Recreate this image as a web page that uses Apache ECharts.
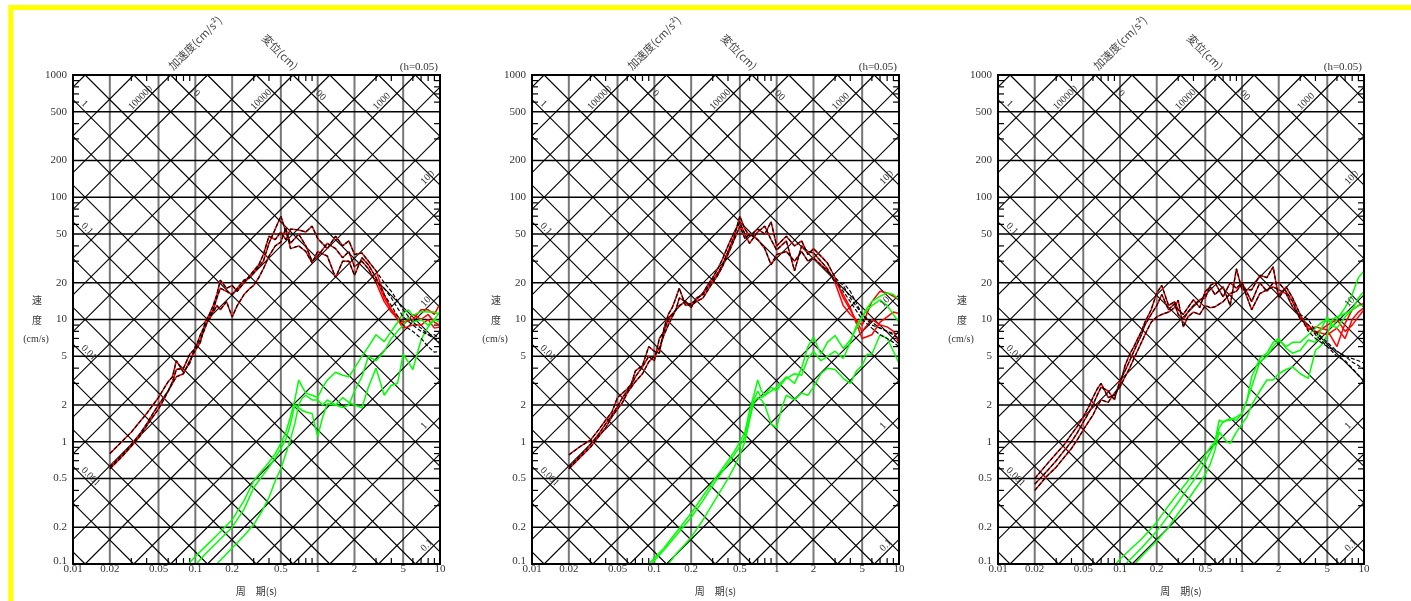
<!DOCTYPE html>
<html><head><meta charset="utf-8">
<script src="https://cdn.jsdelivr.net/npm/echarts@6/dist/echarts.min.js"></script>
<style>html,body{margin:0;padding:0;background:#fff}#c{width:1411px;height:601px}</style>
</head><body><div id="c"></div>
<script>
// ---------- data ----------
const periods = [0.02,0.025,0.03,0.035,0.04,0.045,0.05,0.055,0.06,0.065,0.07,0.08,0.09,0.1,0.11,0.12,0.13,0.14,0.15,0.16,0.18,0.2,0.22,0.25,0.28,0.3,0.33,0.36,0.4,0.45,0.5,0.55,0.6,0.7,0.8,0.9,1.0,1.2,1.4,1.6,1.8,2.0,2.3,2.6,3.0,3.5,4.0,5.0,6.0,7.0,8.0,9.0,10];
const tailPeriods = [3.5,4.0,5.0,6.0,7.0,8.0,9.0,10];
const greenPeriods = [0.08,0.09,0.1,0.12,0.15,0.2,0.25,0.3,0.35,0.4,0.45,0.5,0.55,0.6,0.65,0.7,0.75,0.8,0.9,1.0,1.1,1.2,1.4,1.6,1.8,2.0,2.3,2.6,3.0,3.5,4.0,4.5,5.0,5.5,6.0,7.0,8.0,9.0,10];

// plot 1
const p1RedA = [0.8,1.0,1.2,1.45,1.7,2.0,2.3,2.7,3.1,3.4,4.6,3.7,4.4,6.0,6.8,8.5,10.5,12,15,18,17,16,18,21,22,24,27,30,42,55,70,52,42,50,40,30,33,42,38,32,36,27,30,26,20,14,11.5,9,11,10,11,9.5,9];
const p1RedB = [0.6,0.75,0.92,1.1,1.35,1.6,1.85,2.2,2.6,3.0,3.4,3.6,4.6,5.6,6.5,9.5,11,13,16,21,18,19,17,20,23,25,28,34,48,45,52,45,55,54,52,58,46,38,48,40,44,34,35,30,25,16,12,9.5,10,12,12,11,13.5];
const p1RedC = [0.62,0.78,0.95,1.15,1.4,1.7,2.0,2.3,2.6,3.1,3.9,4.0,5.2,5.8,7.5,9,10,11.5,13,12,14,10.5,13,16,18,19,22,26,33,40,43,56,38,40,36,29,36,33,22,30,30,23,32,28,22,15,12,8.5,9,9,10,8.5,8.7];
const p1BlackTailA = [18,15,10.5,9,8,7.5,7,6.5];
const p1BlackTailB = [20,17,12,9.5,8.5,7.5,7.5,7];
const p1BlackTailC = [16,13,9,8,7,6,5.4,5.5];
const p1GreenA = [0.09,0.103,0.115,0.138,0.172,0.23,0.33,0.48,0.58,0.68,0.8,0.97,1.2,1.6,2.2,3.2,2.8,2.5,2.4,2.3,2.8,3.2,3.7,3.5,3.4,4.0,5.0,6.0,7.5,6.6,8.0,9.5,11.3,12,10.8,11.6,11.5,11.5,11];
const p1GreenB = [0.075,0.085,0.098,0.12,0.15,0.2,0.28,0.42,0.52,0.62,0.74,0.88,1.05,1.4,2.0,1.9,1.8,1.75,1.7,1.1,1.6,2.05,2.0,1.9,2.0,2.6,3.4,5.0,4.6,5.5,7.0,8.0,9.0,10.5,9.5,10,9,10,9.5];
const p1GreenC = [0.05,0.057,0.065,0.078,0.1,0.135,0.17,0.21,0.27,0.35,0.48,0.6,0.8,1.05,1.4,2.0,2.3,2.4,2.2,2.2,2.0,2.2,2.0,2.3,2.1,2.0,1.9,2.8,4.0,2.4,2.9,3.0,5.2,4.5,3.9,6.8,8.7,10,11.6];

// plot 2
const p2RedA = [0.78,0.92,1.03,1.25,1.5,1.75,2.3,2.5,2.7,3.0,3.8,4.2,6.0,5.5,5.3,8.5,11,12.5,15,18,13,13.5,14.5,16.5,20,22,26,31,40,52,62,50,42,52,58,45,37,44,25,40,36,35,30,26,20,13,11,9,14,17,16.5,15.5,14.4];
const p2RedB = [0.62,0.78,0.95,1.15,1.4,1.65,1.95,2.3,2.6,2.9,3.4,4.1,5.0,4.6,7.0,8.0,10,11,12,15,14,12.5,15,16,19,21,24,28,36,48,70,55,48,55,50,63,40,48,40,44,34,38,33,29,22,15,12,8,10,9,8.7,8,6.4];
const p2RedC = [0.6,0.75,0.9,1.1,1.3,1.6,1.85,2.1,2.5,2.8,3.1,3.6,4.5,5.0,5.8,7.5,9,10.5,12,13,14,13,14,15,18,20,23,27,34,45,58,46,50,45,38,28,34,36,30,36,30,32,28,25,21,16,12.5,7,7.5,9.5,10.5,11.5,11.2];
const p2BlackTailA = [20,17,11,9.5,8.5,8,7.5,7];
const p2BlackTailB = [19,15,11,9,8.5,8,7.7,7.7];
const p2BlackTailC = [17,14,10,8.5,7.5,7,6.5,6];
const p2GreenA = [0.09,0.1,0.112,0.135,0.18,0.26,0.36,0.47,0.58,0.7,0.83,1.0,1.2,1.8,2.4,3.2,2.6,2.4,2.6,2.8,3.1,3.4,3.0,4.0,6.0,7.2,5.2,6.5,7.4,5.8,6.8,8.5,10.5,12.5,14,15.5,16.5,16,14.5];
const p2GreenB = [0.085,0.096,0.107,0.13,0.17,0.24,0.33,0.44,0.55,0.66,0.78,0.92,1.1,1.6,2.2,2.6,2.3,2.4,2.8,2.6,3.0,3.3,3.6,3.5,4.8,5.5,4.6,5.0,5.5,4.8,6.5,9.0,10.5,12,13,14.5,13,11,9.5];
const p2GreenC = [0.06,0.067,0.075,0.09,0.12,0.165,0.23,0.31,0.4,0.5,0.62,0.78,1.0,1.5,2.1,2.3,2.2,2.0,1.4,1.3,1.9,2.4,2.2,2.5,2.4,2.8,3.6,4.0,3.9,3.3,3.0,3.8,4.2,5.2,5.2,7.5,7.0,5.5,4.4];

// plot 3
const p3RedA = [0.5,0.65,0.8,0.95,1.15,1.35,1.6,1.9,2.3,2.7,3.0,2.3,2.4,2.9,4.2,5.2,6.0,7.0,8.0,9.5,12,16.5,19,13,14,12,11,12.5,14.5,12.5,17,18.5,16,18.5,13,26,17.5,17.5,23,22,27,15,18.5,15,11,8.2,8.7,8.2,6,9.3,12,13,13.5];
const p3RedB = [0.45,0.57,0.7,0.85,1.0,1.2,1.45,1.7,2.0,2.4,2.8,2.6,2.2,3.2,3.8,4.6,5.5,6.5,7.5,9.0,11,13,16,12,13.5,11,10,11.5,13,14.5,15,19,20,15.3,20,18,20,14,20,17,20,20,17,14,10,9,7.7,9,10,8,9,10.5,12];
const p3RedC = [0.4,0.52,0.62,0.75,0.88,1.05,1.25,1.45,1.65,1.95,2.2,2.1,2.5,2.8,3.4,4.0,4.8,5.6,6.5,7.5,9.5,10.5,11,11.5,12.5,14.4,8.7,10.5,11.5,11,13,12.5,12.7,14,16.3,17,19.7,12,16.3,17.5,18.5,17.5,16.3,12.7,10.5,8.5,8,7.5,8.5,7,10,11.5,12.5];
const p3BlackTailA = [10,8,6.5,5.5,5,4.5,4.2,3.9];
const p3BlackTailB = [9,7.5,6,5,4.6,4.0,3.5,3.1];
const p3BlackTailC = [8,7,6,5.5,5.0,4.8,4.6,4.4];
const p3GreenA = [0.085,0.097,0.11,0.13,0.16,0.22,0.3,0.38,0.46,0.55,0.65,0.78,0.9,1.0,1.5,1.45,1.5,1.55,1.5,1.7,2.2,3.4,4.8,5.3,6.5,7.0,5.8,5.3,5.6,6.8,6.5,8.5,10.5,8.7,10,12.5,16,22,25];
const p3GreenB = [0.07,0.08,0.09,0.108,0.135,0.185,0.25,0.32,0.4,0.48,0.57,0.68,0.82,0.98,1.3,1.45,1.5,1.5,1.6,1.7,2.2,2.8,4.5,5.0,6.0,6.8,6.0,6.5,6.5,7.5,8.5,9.5,10,9,8.5,10.5,12,15,17];
const p3GreenC = [0.055,0.063,0.07,0.09,0.115,0.155,0.2,0.26,0.32,0.39,0.46,0.54,0.66,0.85,1.2,1.1,1.0,0.97,1.2,1.4,1.6,2.0,2.6,3.2,3.2,3.6,3.9,4.1,3.6,3.3,5.6,6.2,7.5,10,10.5,11.2,12,13,13];

// axes / ticks / tripartite lines
const xTickValues = [0.01,0.02,0.05,0.1,0.2,0.5,1,2,5,10];
const xTickLabels = ['0.01','0.02','0.05','0.1','0.2','0.5','1','2','5','10'];
const yTickValues = [0.1,0.2,0.5,1,2,5,10,20,50,100,200,500,1000];
const yTickLabels = ['0.1','0.2','0.5','1','2','5','10','20','50','100','200','500','1000'];
const xMinorTicks = [0.03,0.04,0.06,0.07,0.08,0.09,0.3,0.4,0.6,0.7,0.8,0.9,3,4,6,7,8,9];
const yMinorTicks = [0.3,0.4,0.6,0.7,0.8,0.9,3,4,6,7,8,9,30,40,60,70,80,90,300,400,600,700,800,900];
const dispLines = [0.0001,0.0002,0.0005,0.001,0.002,0.005,0.01,0.02,0.05,0.1,0.2,0.5,1,2,5,10,20,50,100,200,500,1000,2000];
const accLines = [0.01,0.02,0.05,0.1,0.2,0.5,1,2,5,10,20,50,100,200,500,1000,2000,5000,10000,20000,50000,100000,200000,500000,1000000];
const dispLabelsLeft = ['0.001','0.01','0.1','1'];
const dispLabelsTop = ['10','100'];
const accLabelsTop = ['100000','10000','1000'];
const accLabelsRight = ['100','10','1','0.1'];

const plots = [
  {red:[p1RedA,p1RedB,p1RedC], tails:[p1BlackTailA,p1BlackTailB,p1BlackTailC], green:[p1GreenA,p1GreenB,p1GreenC]},
  {red:[p2RedA,p2RedB,p2RedC], tails:[p2BlackTailA,p2BlackTailB,p2BlackTailC], green:[p2GreenA,p2GreenB,p2GreenC]},
  {red:[p3RedA,p3RedB,p3RedC], tails:[p3BlackTailA,p3BlackTailB,p3BlackTailC], green:[p3GreenA,p3GreenB,p3GreenC]}
];

// ---------- layout ----------
const XMIN=0.01, XMAX=10, YMIN=0.1, YMAX=1000;
const plotLefts=[73,532,998], plotWidths=[367,367,366], plotTop=75, plotHeight=489;
const SERIF='"Liberation Serif","DejaVu Serif",serif';
const CJK='"Noto Sans CJK JP","Liberation Serif",serif';

function clipSeg(x1,y1,x2,y2,r){
  let t0=0,t1=1; const dx=x2-x1, dy=y2-y1;
  const p=[-dx,dx,-dy,dy], q=[x1-r.x, r.x+r.width-x1, y1-r.y, r.y+r.height-y1];
  for(let i=0;i<4;i++){
    if(p[i]===0){ if(q[i]<0) return null; }
    else { const t=q[i]/p[i];
      if(p[i]<0){ if(t>t1) return null; if(t>t0) t0=t; }
      else { if(t<t0) return null; if(t<t1) t1=t; } }
  }
  return [x1+t0*dx,y1+t0*dy,x1+t1*dx,y1+t1*dy];
}
const EMPTY={type:'group',children:[]};
function txt(x,y,text,opt){
  return {type:'text', x, y, rotation:opt.rotation||0, z2:10,
    style:{text, fill:opt.fill||'#333', font:opt.font, align:opt.align||'center', textAlign:opt.align||'center',
      verticalAlign:opt.va||'middle', textVerticalAlign:opt.va||'middle'}};
}
function custom(gi, data, renderItem, z){
  return {type:'custom', xAxisIndex:gi, yAxisIndex:gi, coordinateSystem:'cartesian2d', data,
    encode:{x:0,y:1}, renderItem, z, silent:true, animation:false, clip:false};
}
function lineFn(kind,val){ return kind==='D' ? (t)=>2*Math.PI*val/t : (t)=>val*t/(2*Math.PI); }

const series=[];
for(let gi=0;gi<3;gi++){
  series.push(custom(gi, xTickValues.filter(t=>t>XMIN&&t<XMAX).map(t=>[t,1]), (p,api)=>{
    const t=api.value(0), a=api.coord([t,YMIN]), b=api.coord([t,YMAX]);
    return {type:'line', shape:{x1:a[0],y1:a[1],x2:b[0],y2:b[1]}, style:{stroke:'#777',lineWidth:2}};
  },1));
  series.push(custom(gi, yTickValues.filter(v=>v>YMIN&&v<YMAX).map(v=>[1,v]), (p,api)=>{
    const v=api.value(1), a=api.coord([XMIN,v]), b=api.coord([XMAX,v]);
    return {type:'line', shape:{x1:a[0],y1:a[1],x2:b[0],y2:b[1]}, style:{stroke:'#000',lineWidth:1.6}};
  },1));
  [['D',dispLines],['A',accLines]].forEach(([kind,vals])=>{
    series.push(custom(gi, vals.map((v,i)=>[1,1,i]), (p,api)=>{
      const f=lineFn(kind, vals[api.value(2)]);
      const a=api.coord([XMIN,f(XMIN)]), b=api.coord([XMAX,f(XMAX)]);
      const c=clipSeg(a[0],a[1],b[0],b[1],p.coordSys);
      if(!c) return EMPTY;
      return {type:'line', shape:{x1:c[0],y1:c[1],x2:c[2],y2:c[3]}, style:{stroke:'#000',lineWidth:1.1}};
    },2));
  });
  series.push(custom(gi, xMinorTicks.map(t=>[t,1]), (p,api)=>{
    const t=api.value(0), a=api.coord([t,YMIN]), b=api.coord([t,YMAX]);
    return {type:'group', children:[
      {type:'line', shape:{x1:a[0],y1:a[1],x2:a[0],y2:a[1]-6}, style:{stroke:'#000',lineWidth:1.2}},
      {type:'line', shape:{x1:b[0],y1:b[1],x2:b[0],y2:b[1]+6}, style:{stroke:'#000',lineWidth:1.2}}]};
  },3));
  series.push(custom(gi, yMinorTicks.map(v=>[1,v]), (p,api)=>{
    const v=api.value(1), a=api.coord([XMIN,v]), b=api.coord([XMAX,v]);
    return {type:'group', children:[
      {type:'line', shape:{x1:a[0],y1:a[1],x2:a[0]+6,y2:a[1]}, style:{stroke:'#000',lineWidth:1.2}},
      {type:'line', shape:{x1:b[0],y1:b[1],x2:b[0]-6,y2:b[1]}, style:{stroke:'#000',lineWidth:1.2}}]};
  },3));
  series.push(custom(gi, [[1,1]], (p,api)=>{
    const r=p.coordSys;
    return {type:'rect', shape:{x:r.x,y:r.y,width:r.width,height:r.height}, style:{fill:null,stroke:'#000',lineWidth:2}};
  },8));
  series.push(custom(gi, xTickValues.map((t,i)=>[t,1,i]), (p,api)=>{
    const a=api.coord([api.value(0),YMIN]);
    return txt(a[0], a[1]+5, xTickLabels[api.value(2)], {font:'11px '+SERIF, fill:'#333'});
  },9));
  series.push(custom(gi, yTickValues.map((v,i)=>[1,v,i]), (p,api)=>{
    const v=api.value(1), a=api.coord([XMIN,v]);
    return txt(a[0]-6, a[1]-(v===YMIN?3:0), yTickLabels[api.value(2)], {font:'11px '+SERIF, fill:'#333', align:'right'});
  },9));
  const labelGroups=[['D',dispLabelsLeft,'left'],['D',dispLabelsTop,'top'],['A',accLabelsTop,'top'],['A',accLabelsRight,'right']];
  labelGroups.forEach(([kind,labels,place])=>{
    series.push(custom(gi, labels.map((l,i)=>[1,1,i]), (p,api)=>{
      const lab=labels[api.value(2)], f=lineFn(kind, parseFloat(lab));
      const a=api.coord([XMIN,f(XMIN)]), b=api.coord([XMAX,f(XMAX)]), r=p.coordSys;
      let X,Y;
      if(place==='left'){ X=r.x+6; Y=a[1]+(X-a[0])*(b[1]-a[1])/(b[0]-a[0]); }
      else if(place==='right'){ X=r.x+r.width-14; Y=a[1]+(X-a[0])*(b[1]-a[1])/(b[0]-a[0]); }
      else { Y=r.y+(kind==='D'?17:37); X=a[0]+(Y-a[1])*(b[0]-a[0])/(b[1]-a[1]); }
      return txt(X,Y,lab,{font:'10px '+SERIF, fill:'#333', align:'left', va:'bottom', rotation: kind==='D'?-Math.PI/4:Math.PI/4});
    },7));
  });
  const P=plots[gi];
  P.red.forEach(r=>{
    series.push({type:'line', xAxisIndex:gi, yAxisIndex:gi, data:periods.map((t,i)=>[t,r[i]]), symbol:'none', showSymbol:false,
      lineStyle:{color:'#ff0000',width:1.5}, z:4, silent:true, animation:false});
  });
  P.green.forEach(g=>{
    series.push({type:'line', xAxisIndex:gi, yAxisIndex:gi, data:greenPeriods.map((t,i)=>[t,g[i]]), symbol:'none', showSymbol:false,
      lineStyle:{color:'#00ff00',width:1.5}, z:4, silent:true, animation:false});
  });
  P.red.forEach((r,k)=>{
    const tail=P.tails[k];
    const pts=periods.slice(0,45).map((t,i)=>[t,r[i]]).concat(tailPeriods.map((t,i)=>[t,tail[i]]));
    series.push({type:'line', xAxisIndex:gi, yAxisIndex:gi, data:pts, symbol:'none', showSymbol:false,
      lineStyle:{color:'#000',width:1.2,type:[4,2]}, z:5, silent:true, animation:false});
  });
}

const grids=plotLefts.map((l,i)=>({left:l, top:plotTop, width:plotWidths[i], height:plotHeight, show:false, containLabel:false, outerBoundsMode:'none'}));
const hidden={axisLine:{show:false},axisTick:{show:false},axisLabel:{show:false},splitLine:{show:false},minorTick:{show:false},minorSplitLine:{show:false}};
const xAxes=plotLefts.map((l,i)=>Object.assign({type:'log',logBase:10,min:XMIN,max:XMAX,gridIndex:i},hidden));
const yAxes=plotLefts.map((l,i)=>Object.assign({type:'log',logBase:10,min:YMIN,max:YMAX,gridIndex:i},hidden));

const graphic=[{type:'rect', shape:{x:10.8,y:7.5,width:1500,height:700}, style:{fill:null,stroke:'#ffff00',lineWidth:5}, z:100}];
const ctr={align:'center', verticalAlign:'middle', textAlign:'center', textVerticalAlign:'middle'};
plotLefts.forEach((l,i)=>{
  const w=plotWidths[i];
  graphic.push({type:'text', x:l+122, y:plotTop-32, rotation:Math.PI/4, style:Object.assign({text:'加速度(cm/s²)', font:'11px '+CJK, fill:'#444'},ctr)});
  graphic.push({type:'text', x:l+207, y:plotTop-23, rotation:-Math.PI/4, style:Object.assign({text:'変位(cm)', font:'11px '+CJK, fill:'#444'},ctr)});
  graphic.push({type:'text', x:l+w-2, y:plotTop-7.5, style:{text:'(h=0.05)', font:'11px '+SERIF, fill:'#333', align:'right', verticalAlign:'middle', textAlign:'right', textVerticalAlign:'middle'}});
  graphic.push({type:'text', x:l-36, y:300, style:Object.assign({text:'速', font:'10px '+CJK, fill:'#333'},ctr)});
  graphic.push({type:'text', x:l-36, y:320, style:Object.assign({text:'度', font:'10px '+CJK, fill:'#333'},ctr)});
  graphic.push({type:'text', x:l-37, y:339, style:Object.assign({text:'(cm/s)', font:'10px '+SERIF, fill:'#333'},ctr)});
  graphic.push({type:'text', x:l+w/2, y:591.5, style:Object.assign({text:'周　期(s)', font:'10px '+CJK, fill:'#333'},ctr)});
});

const chart=echarts.init(document.getElementById('c'),null,{renderer:'canvas'});
chart.setOption({animation:false, backgroundColor:'#fff', grid:grids, xAxis:xAxes, yAxis:yAxes, series, graphic});
</script></body></html>
